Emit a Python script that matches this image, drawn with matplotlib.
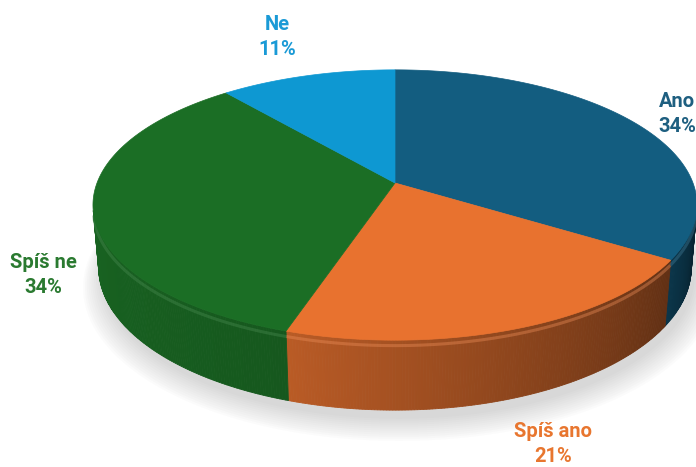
import numpy as np
import matplotlib.pyplot as plt
from matplotlib.patches import Polygon
from matplotlib.colors import to_rgb

# data
labels = ['Ano', 'Spíš ano', 'Spíš ne', 'Ne']
values = [34, 21, 34, 11]
colors = ['#135d80', '#e8722f', '#1b6e25', '#0e98d2']
label_colors = ['#1e5f80', '#e8762f', '#2a7a30', '#1a9ad6']
# shade of the side wall (left end, right end) per slice
side_shade = [(0.58, 0.38), (0.80, 0.42), (0.90, 0.80), (0.8, 0.8)]
label_pos = [(677, 114), (553, 444), (43, 275), (277, 37)]

# simple perspective camera, output in pixel coords
ELEV = np.radians(26.2)
DIST = 5.51
FOCAL = 1642
CX, CY = 395, 183
THICK = 0.235


def project(x, y, z):
    zc = DIST + y * np.cos(ELEV) - z * np.sin(ELEV)
    u = FOCAL * x / zc
    v = FOCAL * (y * np.sin(ELEV) + z * np.cos(ELEV)) / zc
    return CX + u, CY - v


def arc(t0, t1, z, r=1.0, n=None):
    if n is None:
        n = max(int(abs(t1 - t0) * 2), 2)
    t = np.radians(np.linspace(t0, t1, n))
    return project(r * np.cos(t), r * np.sin(t), z)


def shade(c, f):
    return tuple(min(1, ch * f) for ch in to_rgb(c))


def lighten(c, f):
    return tuple(ch + (1 - ch) * f for ch in to_rgb(c))


fig = plt.figure(figsize=(6.96, 4.67), dpi=100)
ax = fig.add_axes([0, 0, 1, 1])
ax.set_xlim(0, 696)
ax.set_ylim(467, 0)
ax.axis('off')

# soft shadow under the pie
for i in range(12):
    r = 1.0 + 0.006 * i
    xs, ys = arc(-200, 20, -THICK - 0.02, r=r, n=200)
    ax.fill(xs + 4, ys + 3 + i * 0.8, color='#777777', alpha=0.025, lw=0, zorder=1)

# slice angles, clockwise from 12 o'clock
total = sum(values)
bounds = [90.0]
for v in values:
    bounds.append(bounds[-1] - v / total * 360)

# visible part of the side wall
lim = np.degrees(np.arcsin(1 / (DIST * np.cos(ELEV))))
vis_lo, vis_hi = -180 + lim, -lim

for i in range(len(values)):
    hi, lo = bounds[i], bounds[i + 1]
    segs = []
    for off in (0, -360, 360):
        a, b = lo + off, hi + off
        a2, b2 = max(a, vis_lo), min(b, vis_hi)
        if a2 < b2:
            segs.append((a2, b2))
    for a, b in segs:
        ts = np.linspace(a, b, max(int((b - a) * 2), 2))
        s0, s1 = side_shade[i]
        for k in range(len(ts) - 1):
            frac = (ts[k] - a) / max(b - a, 1e-6)
            f = s0 + (s1 - s0) * frac
            x1, y1 = arc(ts[k], ts[k + 1], 0, n=2)
            x2, y2 = arc(ts[k + 1], ts[k], -THICK, n=2)
            poly = np.column_stack([np.r_[x1, x2], np.r_[y1, y2]])
            col = shade(colors[i], f)
            ax.add_patch(Polygon(poly, closed=True, fc=col, ec=col, lw=0.6, zorder=2))
        # bevel highlight just below the rim
        hx, hy = arc(a, b, -0.018)
        ax.plot(hx, hy, color=lighten(colors[i], 0.2), lw=2.2, alpha=0.4,
                solid_capstyle='butt', zorder=3)

# top surface
cx, cy = project(0, 0, 0)
for i in range(len(values)):
    xs, ys = arc(bounds[i + 1], bounds[i], 0)
    poly = np.column_stack([np.r_[cx, xs], np.r_[cy, ys]])
    ax.add_patch(Polygon(poly, closed=True, fc=colors[i], ec=colors[i], lw=0.5, zorder=4))

# labels
for i in range(len(values)):
    x, y = label_pos[i]
    ax.text(x, y, f'{labels[i]}\n{values[i]}%', color=label_colors[i],
            fontsize=14.5, fontweight='bold', family='Roboto',
            ha='center', va='center', linespacing=1.4, zorder=5)

fig.savefig('out.png', dpi=100)
